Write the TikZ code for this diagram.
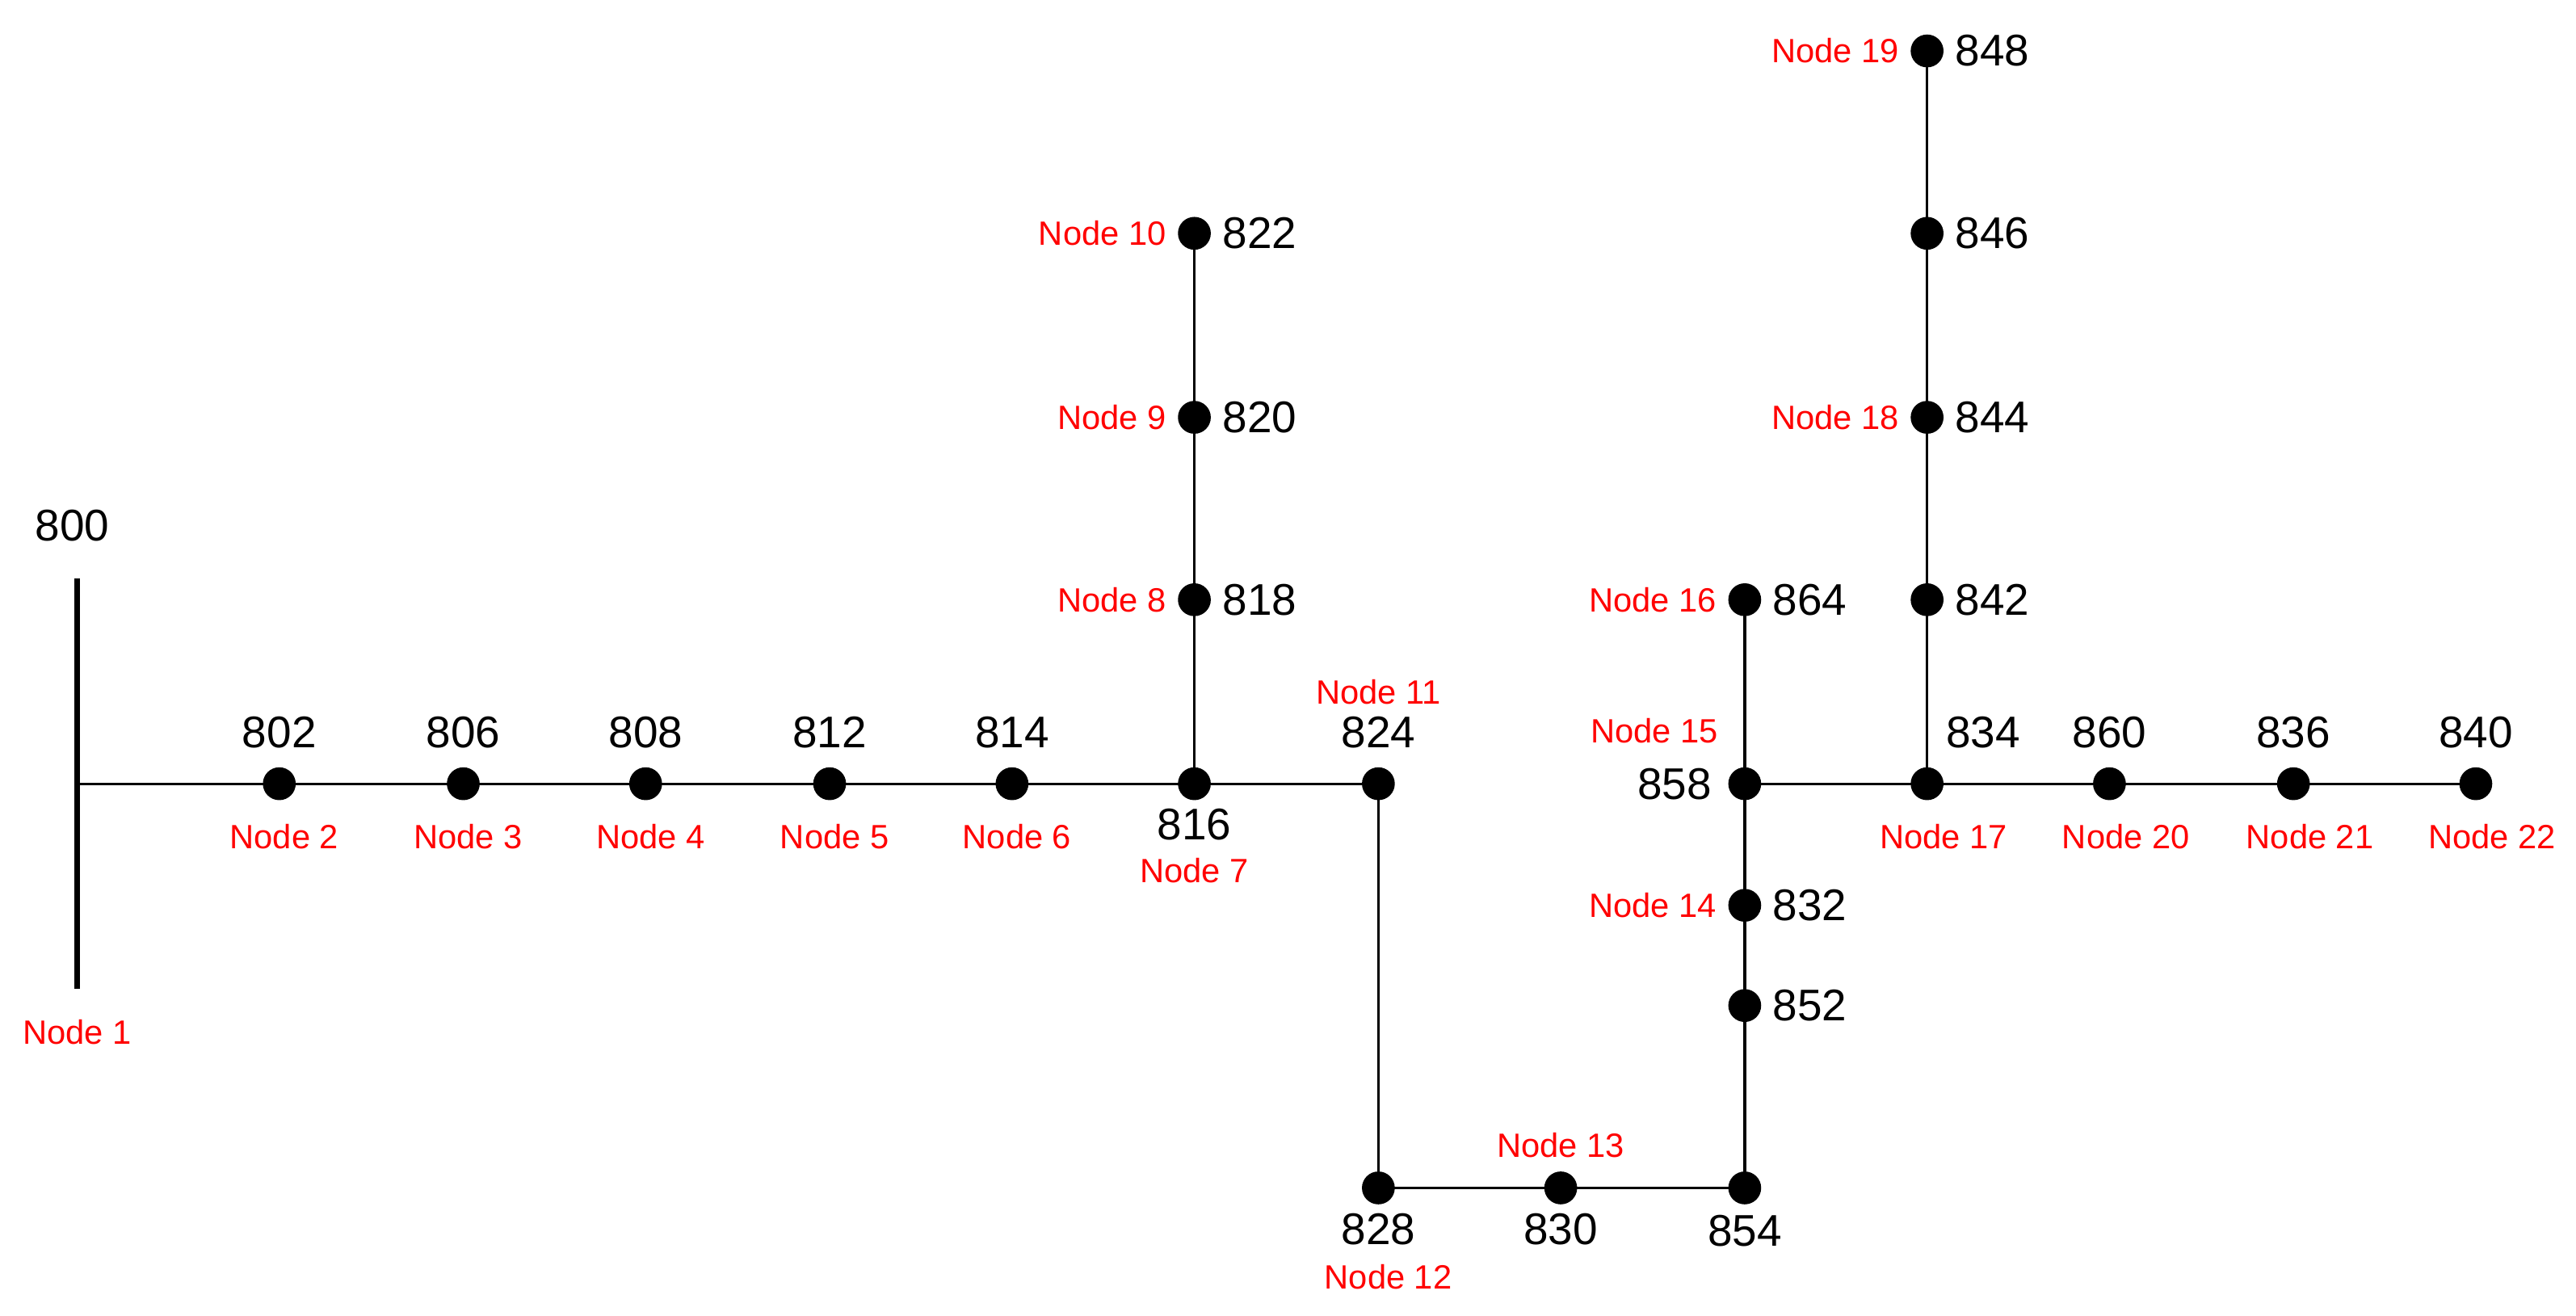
\documentclass[tikz,border=0pt]{standalone}
\usepackage{fontspec}
\setmainfont{Liberation Sans}
\begin{document}
\begin{tikzpicture}[x=1pt,y=-1pt,
  dot/.style={circle,fill=black,inner sep=0pt,minimum size=20pt},
  num/.style={font=\fontsize{27}{30}\selectfont,inner sep=0pt},
  lab/.style={font=\fontsize{20.5}{24}\selectfont,text=red,inner sep=0pt},
  ln/.style={line width=1.6pt}]
\useasboundingbox (0,0) rectangle (1568,800.5);
\coordinate (b1) at (47,352); \coordinate (b2) at (47,602); \coordinate (b0) at (47,477);
\draw[line width=3.5pt] (b1) -- (b2);
\node[num] at (44,320) {800};
\node[lab] at (47,628) {Node 1};
\foreach \n/\x/\y in {802/170/477,806/282/477,808/393/477,812/505/477,814/616/477,816/727/477,824/839/477,
 818/727/365,820/727/254,822/727/142,828/839/723,830/950/723,854/1062/723,852/1062/612,832/1062/551,
 858/1062/477,864/1062/365,834/1173/477,842/1173/365,844/1173/254,846/1173/142,848/1173/31,
 860/1284/477,836/1396/477,840/1507/477}
  \coordinate (c\n) at (\x,\y);
\draw[ln] (b0) -- (c802) -- (c806) -- (c808) -- (c812) -- (c814) -- (c816) -- (c824) -- (c828) -- (c830) -- (c854) -- (c852) -- (c832) -- (c858) -- (c864);
\draw[ln] (c816) -- (c818) -- (c820) -- (c822);
\draw[ln] (c858) -- (c834) -- (c860) -- (c836) -- (c840);
\draw[ln] (c834) -- (c842) -- (c844) -- (c846) -- (c848);
\foreach \n in {802,806,808,812,814,816,824,818,820,822,828,830,854,852,832,858,864,834,842,844,846,848,860,836,840}
  \node[dot] (d\n) at (c\n) {};
\foreach \n/\k in {802/2,806/3,808/4,812/5,814/6}{
  \node[num] at ([yshift=31pt]c\n) {\n};
  \node[lab] at ([xshift=3pt,yshift=-32pt]c\n) {Node \k};}
\foreach \n/\k in {860/20,836/21,840/22}{
  \node[num] at ([yshift=31pt]c\n) {\n};
  \node[lab] at ([xshift=10pt,yshift=-32pt]c\n) {Node \k};}
\node[num] at ([yshift=-25pt]c816) {816};
\node[lab] at ([yshift=-53pt]c816) {Node 7};
\node[num] at ([yshift=31pt]c824) {824};
\node[lab] at ([yshift=56pt]c824) {Node 11};
\foreach \n in {818,820,822,852,832,864,842,844,846,848}
  \node[num,anchor=west] at ([xshift=17pt]c\n) {\n};
\foreach \n/\k in {818/8,820/9,822/10,832/14,864/16,844/18,848/19}
  \node[lab,anchor=east] at ([xshift=-17pt]c\n) {Node \k};
\node[num] at ([yshift=-25pt]c828) {828};
\node[lab] at ([xshift=6pt,yshift=-54pt]c828) {Node 12};
\node[num] at ([yshift=-25pt]c830) {830};
\node[lab] at ([yshift=26pt]c830) {Node 13};
\node[num] at ([yshift=-26pt]c854) {854};
\node[num,anchor=east] at ([xshift=-20pt]c858) {858};
\node[lab] at ([xshift=-55pt,yshift=32pt]c858) {Node 15};
\node[num] at ([xshift=34pt,yshift=31pt]c834) {834};
\node[lab] at ([xshift=10pt,yshift=-32pt]c834) {Node 17};
\end{tikzpicture}
\end{document}
